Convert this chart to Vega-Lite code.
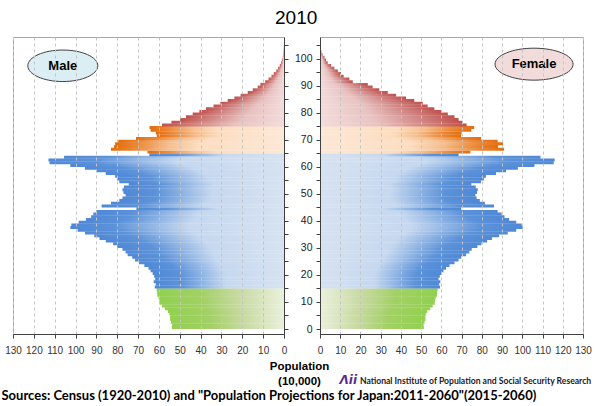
{
  "$schema": "https://vega.github.io/schema/vega-lite/v6.json",
  "padding": {"left": 0, "top": 8, "right": 0, "bottom": 0},
  "background": "white",
  "title": {"text": "2010", "fontSize": 19, "fontWeight": "normal", "font": "Liberation Sans", "color": "#000000", "offset": 9, "anchor": "middle"},
  "data": {"values": [
    {"age":0,"male":53.8,"female":51.3},{"age":1,"male":53.7,"female":51.2},{"age":2,"male":54.2,"female":51.7},{"age":3,"male":54.6,"female":52.1},{"age":4,"male":54.7,"female":52.1},
    {"age":5,"male":55.0,"female":52.3},{"age":6,"male":55.7,"female":53.0},{"age":7,"male":57.2,"female":54.5},{"age":8,"male":58.5,"female":55.7},{"age":9,"male":59.6,"female":56.7},
    {"age":10,"male":59.8,"female":56.9},{"age":11,"male":60.2,"female":57.2},{"age":12,"male":60.8,"female":57.8},{"age":13,"male":60.9,"female":57.9},{"age":14,"male":61.1,"female":58.2},
    {"age":15,"male":62.0,"female":59.3},{"age":16,"male":61.5,"female":58.8},{"age":17,"male":62.5,"female":59.5},{"age":18,"male":61.8,"female":58.6},{"age":19,"male":62.3,"female":59.2},
    {"age":20,"male":63.0,"female":60.0},{"age":21,"male":64.0,"female":61.0},{"age":22,"male":65.0,"female":62.3},{"age":23,"male":67.0,"female":64.0},{"age":24,"male":69.5,"female":66.5},
    {"age":25,"male":71.5,"female":68.5},{"age":26,"male":72.8,"female":69.8},{"age":27,"male":75.0,"female":72.2},{"age":28,"male":76.0,"female":73.8},{"age":29,"male":77.5,"female":75.0},
    {"age":30,"male":80.0,"female":77.8},{"age":31,"male":82.0,"female":79.8},{"age":32,"male":85.5,"female":82.6},{"age":33,"male":88.5,"female":85.0},{"age":34,"male":91.0,"female":88.5},
    {"age":35,"male":95.5,"female":92.8},{"age":36,"male":99.0,"female":97.0},{"age":37,"male":102.5,"female":100.2},{"age":38,"male":102.0,"female":99.7},{"age":39,"male":98.5,"female":97.0},
    {"age":40,"male":95.0,"female":93.5},{"age":41,"male":92.5,"female":91.2},{"age":42,"male":91.5,"female":89.8},{"age":43,"male":90.0,"female":87.8},{"age":44,"male":70.8,"female":69.8},
    {"age":45,"male":87.5,"female":86.0},{"age":46,"male":83.0,"female":81.5},{"age":47,"male":79.0,"female":79.0},{"age":48,"male":77.5,"female":77.4},{"age":49,"male":76.0,"female":76.8},
    {"age":50,"male":77.0,"female":77.6},{"age":51,"male":77.5,"female":78.0},{"age":52,"male":76.8,"female":77.0},{"age":53,"male":74.5,"female":74.8},{"age":54,"male":79.0,"female":79.6},
    {"age":55,"male":80.0,"female":81.0},{"age":56,"male":81.0,"female":82.0},{"age":57,"male":85.5,"female":87.0},{"age":58,"male":90.0,"female":92.0},{"age":59,"male":95.5,"female":97.8},
    {"age":60,"male":102.5,"female":106.0},{"age":61,"male":112.5,"female":115.5},{"age":62,"male":113.0,"female":116.0},{"age":63,"male":105.5,"female":109.0},{"age":64,"male":64.6,"female":68.5},
    {"age":65,"male":65.5,"female":74.3},{"age":66,"male":83.0,"female":91.0},{"age":67,"male":81.5,"female":88.0},{"age":68,"male":81.0,"female":90.5},{"age":69,"male":79.5,"female":87.8},
    {"age":70,"male":71.0,"female":79.6},{"age":71,"male":61.0,"female":69.7},{"age":72,"male":61.5,"female":70.0},{"age":73,"male":64.0,"female":74.8},{"age":74,"male":64.5,"female":76.2},
    {"age":75,"male":58.5,"female":72.5},{"age":76,"male":54.0,"female":70.5},{"age":77,"male":49.8,"female":68.5},{"age":78,"male":47.0,"female":66.5},{"age":79,"male":43.8,"female":63.2},
    {"age":80,"male":40.6,"female":59.8},{"age":81,"male":37.4,"female":56.5},{"age":82,"male":33.8,"female":53.2},{"age":83,"male":30.5,"female":50.8},{"age":84,"male":27.0,"female":46.6},
    {"age":85,"male":23.8,"female":42.5},{"age":86,"male":20.8,"female":37.6},{"age":87,"male":17.4,"female":33.5},{"age":88,"male":15.0,"female":29.3},{"age":89,"male":12.6,"female":26.0},
    {"age":90,"male":11.3,"female":23.6},{"age":91,"male":9.0,"female":16.2},{"age":92,"male":7.4,"female":14.5},{"age":93,"male":6.0,"female":11.7},{"age":94,"male":4.9,"female":10.4},
    {"age":95,"male":3.7,"female":8.8},{"age":96,"male":2.8,"female":7.1},{"age":97,"male":2.0,"female":5.5},{"age":98,"male":1.4,"female":3.8},{"age":99,"male":1.0,"female":3.0},
    {"age":100,"male":0.6,"female":2.2},{"age":101,"male":0.35,"female":1.3},{"age":102,"male":0.2,"female":0.7},{"age":103,"male":0.1,"female":0.35},{"age":104,"male":0.05,"female":0.15},
    {"age":105,"male":0.02,"female":0.05}
  ]},
  "spacing": 36,
  "bounds": "flush",
  "hconcat": [
    {
      "width": 271,
      "height": 297,
      "encoding": {
        "y": {"field": "age", "type": "quantitative", "scale": {"domain": [0, 106.2], "nice": false, "zero": false},
          "axis": {"orient": "right", "values": [0,5,10,15,20,25,30,35,40,45,50,55,60,65,70,75,80,85,90,95,100,105], "labels": false, "tickSize": 4, "grid": false, "domainColor": "#404040", "tickColor": "#404040", "zindex": 1,
            "title": "Λii", "titleAngle": 0, "titleX": 55, "titleY": 342, "titleAlign": "left", "titleBaseline": "middle", "titleColor": "#5B2C8F", "titleFont": "DejaVu Sans", "titleFontSize": 12, "titleFontStyle": "italic", "titleFontWeight": "bold"}},
        "x": {"field": "male", "type": "quantitative", "scale": {"domain": [0, 130], "reverse": true, "nice": false},
          "axis": {"values": [0,10,20,30,40,50,60,70,80,90,100,110,120,130], "grid": true, "gridDash": [3, 3], "gridColor": "#c4c4c4", "tickSize": 4, "labelFlush": false, "labelPadding": 7, "labelFontSize": 10, "labelColor": "#333333", "domainColor": "#404040", "tickColor": "#404040", "zindex": 1,
            "title": "Sources: Census (1920-2010) and \"Population Projections for Japan:2011-2060\"(2015-2060)", "titleFont": "Lato", "titleFontWeight": "bold", "titleFontSize": 13, "titleColor": "#000000", "titleX": -12, "titleY": 61, "titleAlign": "left", "titleBaseline": "middle"}}
      },
      "layer": [
        {
          "transform": [{"filter": {"field": "age", "range": [0, 14]}}],
          "mark": {"type": "bar", "orient": "horizontal", "size": 3, "yOffset": -1.4, "stroke": null,
            "fill": {"gradient": "linear", "x1": 1, "y1": 0, "x2": 0, "y2": 0, "stops": [{"offset": 0, "color": "#EAF0DC"}, {"offset": 0.35, "color": "#C9DAA3"}, {"offset": 0.65, "color": "#A3D066"}, {"offset": 1, "color": "#92D050"}]}}
        },
        {
          "transform": [{"filter": {"field": "age", "range": [15, 64]}}],
          "mark": {"type": "bar", "orient": "horizontal", "size": 3, "yOffset": -1.4, "stroke": null,
            "fill": {"gradient": "linear", "x1": 1, "y1": 0, "x2": 0, "y2": 0, "stops": [{"offset": 0, "color": "#D6E2F1"}, {"offset": 0.45, "color": "#C6D8EF"}, {"offset": 0.8, "color": "#5C92D9"}, {"offset": 1, "color": "#4F88D6"}]}}
        },
        {
          "transform": [{"filter": {"field": "age", "range": [65, 74]}}],
          "mark": {"type": "bar", "orient": "horizontal", "size": 3, "yOffset": -1.4, "stroke": null,
            "fill": {"gradient": "linear", "x1": 1, "y1": 0, "x2": 0, "y2": 0, "stops": [{"offset": 0, "color": "#FDE8D6"}, {"offset": 0.5, "color": "#FCDDC0"}, {"offset": 0.68, "color": "#F5BF90"}, {"offset": 0.86, "color": "#EB8A3A"}, {"offset": 1, "color": "#E46C0A"}]}}
        },
        {
          "transform": [{"filter": {"field": "age", "range": [75, 105]}}],
          "mark": {"type": "bar", "orient": "horizontal", "size": 3, "yOffset": -1.4, "stroke": null,
            "fill": {"gradient": "linear", "x1": 1, "y1": 0, "x2": 0, "y2": 0, "stops": [{"offset": 0, "color": "#F2DCDB"}, {"offset": 0.4, "color": "#E8C2C1"}, {"offset": 0.7, "color": "#D28A88"}, {"offset": 1, "color": "#C0504D"}]}}
        },
        {
          "data": {"values": [{"label": "Male", "px": 106.1, "py": 97.4}]},
          "mark": {"type": "point", "shape": "M-1,0A1,0.45,0,1,1,1,0A1,0.45,0,1,1,-1,0Z", "size": 4900, "filled": true, "fill": "#DAEEF3", "stroke": "#404040", "strokeWidth": 1, "opacity": 1},
          "encoding": {
            "x": {"field": "px", "type": "quantitative"},
            "y": {"field": "py", "type": "quantitative"}
          }
        },
        {
          "data": {"values": [{"label": "Male", "px": 106.1, "py": 97.4}]},
          "mark": {"type": "text", "font": "Liberation Sans", "fontWeight": "bold", "fontSize": 13, "color": "#000000", "baseline": "middle", "align": "center"},
          "encoding": {
            "text": {"field": "label"},
            "x": {"field": "px", "type": "quantitative"},
            "y": {"field": "py", "type": "quantitative"}
          }
        }
      ]
    },
    {
      "width": 263,
      "height": 297,
      "encoding": {
        "y": {"field": "age", "type": "quantitative", "scale": {"domain": [0, 106.2], "nice": false, "zero": false},
          "axis": {"orient": "left", "values": [0,5,10,15,20,25,30,35,40,45,50,55,60,65,70,75,80,85,90,95,100,105], "labelExpr": "datum.value % 10 === 0 ? datum.label : ''", "labelFontSize": 10.5, "labelColor": "#222222", "labelPadding": 4, "tickSize": 4, "grid": false, "domainColor": "#404040", "tickColor": "#404040", "zindex": 1,
            "title": "National Institute of Population and Social Security Research", "titleAngle": 0, "titleX": 270.7, "titleY": 343, "titleAlign": "right", "titleBaseline": "middle", "titleFont": "Lato", "titleFontSize": 8.6, "titleFontWeight": "bold", "titleColor": "#1a1a2a"}},
        "x": {"field": "female", "type": "quantitative", "scale": {"domain": [0, 130], "nice": false},
          "axis": {"values": [0,10,20,30,40,50,60,70,80,90,100,110,120,130], "grid": true, "gridDash": [3, 3], "gridColor": "#c4c4c4", "tickSize": 4, "labelFlush": false, "labelPadding": 7, "labelFontSize": 10, "labelColor": "#333333", "domainColor": "#404040", "tickColor": "#404040", "zindex": 1,
            "title": ["Population", "(10,000)"], "titleFont": "Liberation Sans", "titleFontWeight": "bold", "titleFontSize": 11.5, "titleColor": "#000000", "titleX": -21, "titleY": 26, "titleAlign": "center", "titleBaseline": "top", "titleLineHeight": 15}}
      },
      "layer": [
        {
          "transform": [{"filter": {"field": "age", "range": [0, 14]}}],
          "mark": {"type": "bar", "orient": "horizontal", "size": 3, "yOffset": -1.4, "stroke": null,
            "fill": {"gradient": "linear", "x1": 0, "y1": 0, "x2": 1, "y2": 0, "stops": [{"offset": 0, "color": "#EAF0DC"}, {"offset": 0.35, "color": "#C9DAA3"}, {"offset": 0.65, "color": "#A3D066"}, {"offset": 1, "color": "#92D050"}]}}
        },
        {
          "transform": [{"filter": {"field": "age", "range": [15, 64]}}],
          "mark": {"type": "bar", "orient": "horizontal", "size": 3, "yOffset": -1.4, "stroke": null,
            "fill": {"gradient": "linear", "x1": 0, "y1": 0, "x2": 1, "y2": 0, "stops": [{"offset": 0, "color": "#D6E2F1"}, {"offset": 0.45, "color": "#C6D8EF"}, {"offset": 0.8, "color": "#5C92D9"}, {"offset": 1, "color": "#4F88D6"}]}}
        },
        {
          "transform": [{"filter": {"field": "age", "range": [65, 74]}}],
          "mark": {"type": "bar", "orient": "horizontal", "size": 3, "yOffset": -1.4, "stroke": null,
            "fill": {"gradient": "linear", "x1": 0, "y1": 0, "x2": 1, "y2": 0, "stops": [{"offset": 0, "color": "#FDE8D6"}, {"offset": 0.5, "color": "#FCDDC0"}, {"offset": 0.68, "color": "#F5BF90"}, {"offset": 0.86, "color": "#EB8A3A"}, {"offset": 1, "color": "#E46C0A"}]}}
        },
        {
          "transform": [{"filter": {"field": "age", "range": [75, 105]}}],
          "mark": {"type": "bar", "orient": "horizontal", "size": 3, "yOffset": -1.4, "stroke": null,
            "fill": {"gradient": "linear", "x1": 0, "y1": 0, "x2": 1, "y2": 0, "stops": [{"offset": 0, "color": "#F2DCDB"}, {"offset": 0.4, "color": "#E8C2C1"}, {"offset": 0.7, "color": "#D28A88"}, {"offset": 1, "color": "#C0504D"}]}}
        },
        {
          "data": {"values": [{"label": "Female", "px": 105.8, "py": 98.0}]},
          "mark": {"type": "point", "shape": "M-1,0A1,0.41,0,1,1,1,0A1,0.41,0,1,1,-1,0Z", "size": 6084, "filled": true, "fill": "#F2DCDB", "stroke": "#404040", "strokeWidth": 1, "opacity": 1},
          "encoding": {
            "x": {"field": "px", "type": "quantitative"},
            "y": {"field": "py", "type": "quantitative"}
          }
        },
        {
          "data": {"values": [{"label": "Female", "px": 105.8, "py": 98.0}]},
          "mark": {"type": "text", "font": "Liberation Sans", "fontWeight": "bold", "fontSize": 13, "color": "#000000", "baseline": "middle", "align": "center"},
          "encoding": {
            "text": {"field": "label"},
            "x": {"field": "px", "type": "quantitative"},
            "y": {"field": "py", "type": "quantitative"}
          }
        }
      ]
    }
  ],
  "config": {
    "view": {"stroke": "#a6a6a6", "strokeWidth": 1},
    "font": "Liberation Sans"
  }
}
